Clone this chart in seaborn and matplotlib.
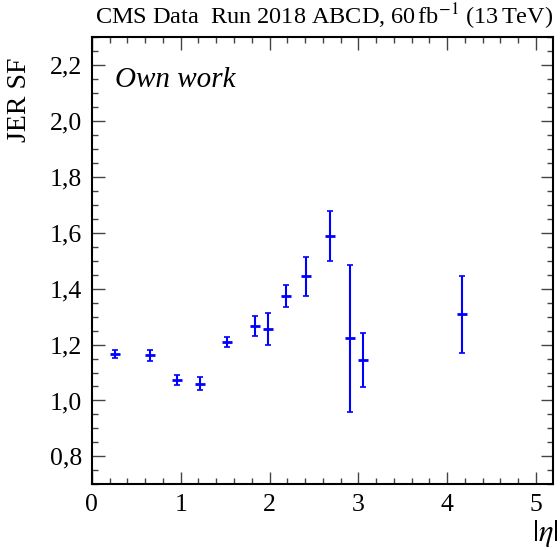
import numpy as np
import pandas as pd
import seaborn as sns
import matplotlib.pyplot as plt
from matplotlib.ticker import MultipleLocator, FuncFormatter

# bin centres in |eta| and JER scale factors
eta = [0.261, 0.652, 0.957, 1.218, 1.522, 1.835, 1.987, 2.183, 2.411, 2.677, 2.909, 3.051, 4.165]
sf = [1.167, 1.162, 1.072, 1.060, 1.208, 1.266, 1.256, 1.373, 1.445, 1.589, 1.222, 1.145, 1.308]
sf_err = [0.014, 0.020, 0.018, 0.023, 0.018, 0.036, 0.058, 0.039, 0.070, 0.089, 0.262, 0.098, 0.138]

df = pd.DataFrame({'eta': eta, 'sf': sf, 'err': sf_err})

sns.set_theme(style='ticks')
plt.rcParams['font.family'] = ['Liberation Serif', 'DejaVu Serif']
plt.rcParams['mathtext.fontset'] = 'stix'
plt.rcParams['text.color'] = 'black'
plt.rcParams['axes.labelcolor'] = 'black'
plt.rcParams['xtick.labelcolor'] = 'black'
plt.rcParams['ytick.labelcolor'] = 'black'

fig = plt.figure(figsize=(5.6, 5.5), dpi=100)
ax = fig.add_axes([0.164, 0.1195, 0.9875 - 0.164, 0.9322 - 0.1195])

ax.errorbar(df['eta'], df['sf'], yerr=df['err'], fmt='none', ecolor='#0000ff',
            elinewidth=1.5, capsize=2.0, capthick=1.2)
sns.scatterplot(data=df, x='eta', y='sf', marker='_', s=45, color='#0000ff',
                linewidth=2.0, ax=ax, legend=False)

ax.set_xlim(0, 5.191)
ax.set_ylim(0.7, 2.3)
ax.xaxis.set_major_locator(MultipleLocator(1))
ax.xaxis.set_minor_locator(MultipleLocator(0.2))
ax.yaxis.set_major_locator(MultipleLocator(0.2))
ax.yaxis.set_minor_locator(MultipleLocator(0.05))
ax.yaxis.set_major_formatter(FuncFormatter(lambda v, p: f'{v:.1f}'.replace('.', ',')))
ax.xaxis.set_major_formatter(FuncFormatter(lambda v, p: f'{v:.0f}'))

ax.tick_params(which='both', direction='in', top=True, right=True, labelsize=18.5,
               color='#444444', labelcolor='black', width=1.0)
ax.tick_params(which='major', length=9, pad=7)
ax.tick_params(which='minor', length=4.5)
for s in ax.spines.values():
    s.set_linewidth(1.5)
    s.set_color('black')

ax.set_xlabel(r'$|\eta|$', loc='right', fontsize=22, color='black')
ax.xaxis.set_label_coords(1.013, -0.075)
ax.set_ylabel('JER SF', loc='top', fontsize=20, color='black')
ax.yaxis.set_label_coords(-0.13, 0.954)

ax.text(0.05, 0.933, 'Own work', transform=ax.transAxes, fontsize=21,
        style='italic', ha='left', va='top', color='black')
ax.text(1.0, 1.012, r'CMS Data  Run 2018 ABCD, 60$\,$fb$^{-1}$ (13$\,$TeV)',
        transform=ax.transAxes, fontsize=17.5, ha='right', va='bottom', color='black')

fig.savefig('out.png', dpi=100)
